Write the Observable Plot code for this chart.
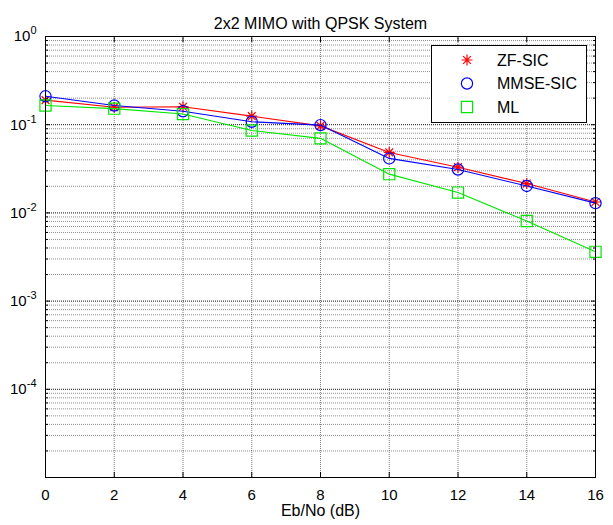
<!DOCTYPE html>
<html>
<head>
<meta charset="utf-8">
<script src="https://cdn.jsdelivr.net/npm/d3@7"></script>
<script src="https://cdn.jsdelivr.net/npm/@observablehq/plot@0.6"></script>
<style>
  html, body { margin: 0; padding: 0; background: #fff; }
  #chart svg { display: block; }
</style>
</head>
<body>
<div id="chart"></div>
<script>
const titleText = "2x2 MIMO with QPSK System";
const xLabel = "Eb/No (dB)";
const ebno = [0, 2, 4, 6, 8, 10, 12, 14, 16];
const zfSic   = [0.190, 0.158, 0.160, 0.125, 0.097, 0.0485, 0.033, 0.0215, 0.0133];
const mmseSic = [0.210, 0.165, 0.142, 0.108, 0.099, 0.0415, 0.031, 0.0202, 0.0129];
const ml      = [0.165, 0.152, 0.132, 0.086, 0.070, 0.0275, 0.017, 0.0081, 0.00362];
const seriesNames = ["ZF-SIC", "MMSE-SIC", "ML"];
const seriesColors = ["#ff0000", "#0000ff", "#00e600"];
const xTicks = [0, 2, 4, 6, 8, 10, 12, 14, 16];
const yLabelTicks = [1, 0.1, 0.01, 0.001, 0.0001];
const decades = [-5, -4, -3, -2, -1, 0];
const minorMult = [2, 3, 4, 5, 6, 7, 8, 9];

const majorTicks = decades.map(e => Math.pow(10, e));
const minorTicks = decades.slice(0, -1).flatMap(e => minorMult.map(m => m * Math.pow(10, e)));

// MATLAB-like 8-arm asterisk
const asterisk8 = {
  draw(context, size) {
    const r = Math.sqrt(size / Math.PI);
    const d = r * Math.SQRT1_2;
    context.moveTo(-r, 0); context.lineTo(r, 0);
    context.moveTo(0, -r); context.lineTo(0, r);
    context.moveTo(-d, -d); context.lineTo(d, d);
    context.moveTo(-d, d); context.lineTo(d, -d);
  }
};
const symbols = [asterisk8, "circle", "square"];
const radii = [5.5, 5.6, 6.3];

const allSeries = [zfSic, mmseSic, ml];
const rows = allSeries.flatMap((vals, si) => vals.map((v, i) => ({x: ebno[i], y: v, s: seriesNames[si]})));

const font = "'Liberation Sans', Arial, Helvetica, sans-serif";

const lineMarks = seriesNames.flatMap((name, si) => {
  const d = rows.filter(r => r.s === name);
  return [
    Plot.line(d, {x: "x", y: "y", stroke: seriesColors[si], strokeWidth: 1.1}),
    Plot.dot(d, {x: "x", y: "y", symbol: () => symbols[si], r: radii[si], stroke: seriesColors[si], fill: "none", strokeWidth: 1.2})
  ];
});

const tickOnly = {fill: "none", label: null};

const chart = Plot.plot({
  width: 613,
  height: 525,
  marginLeft: 45,
  marginRight: 18,
  marginTop: 36,
  marginBottom: 48,
  style: {fontFamily: font, fontSize: "15px", background: "#fff", color: "#000"},
  x: {domain: [0, 16]},
  y: {type: "log", domain: [1e-5, 1]},
  symbol: {type: "identity"},
  marks: [
    Plot.gridY(minorTicks, {stroke: "#000", strokeOpacity: 0.45, strokeDasharray: "1,1", strokeWidth: 1}),
    Plot.gridY(majorTicks, {stroke: "#000", strokeOpacity: 0.95, strokeDasharray: "1,1", strokeWidth: 1}),
    Plot.gridX(xTicks, {stroke: "#000", strokeOpacity: 0.5, strokeDasharray: "1,1", strokeWidth: 1}),
    ...lineMarks,
    Plot.frame({stroke: "#000", strokeWidth: 1}),
    Plot.axisX(xTicks, {anchor: "bottom", tickSize: 0, tickPadding: 12, tickFormat: d => String(d), label: null, fontSize: 15}),
    Plot.axisX(xTicks, {anchor: "bottom", tickSize: -5, ...tickOnly}),
    Plot.axisX(xTicks, {anchor: "top", tickSize: -5, ...tickOnly}),
    Plot.axisY(yLabelTicks, {anchor: "left", tickSize: 0, tickPadding: 9, tickFormat: d => String(Math.round(Math.log10(d))), label: null, fontSize: 15}),
    Plot.axisY(majorTicks, {anchor: "left", tickSize: -5, ...tickOnly}),
    Plot.axisY(majorTicks, {anchor: "right", tickSize: -5, ...tickOnly}),
    Plot.axisY(minorTicks, {anchor: "left", tickSize: -3, ...tickOnly}),
    Plot.axisY(minorTicks, {anchor: "right", tickSize: -3, ...tickOnly}),
    Plot.text([titleText], {frameAnchor: "top", dy: -19, text: d => d, fontSize: 16}),
    Plot.text([xLabel], {frameAnchor: "bottom", dy: 38, text: d => d, fontSize: 16})
  ]
});

document.getElementById("chart").appendChild(chart);

const svg = d3.select(chart);
// make tick labels the reference's size
svg.selectAll('[aria-label="x-axis tick label"], [aria-label="y-axis tick label"]').attr("font-size", 15)
  .selectAll("text").attr("font-size", null);
// superscript exponents on y tick labels
svg.selectAll('[aria-label="y-axis tick label"] text').each(function() {
  const t = d3.select(this);
  const exp = t.text();
  t.text("10");
  t.append("tspan").attr("dy", "-0.62em").attr("font-size", "11px").text(exp);
});

// legend
const lg = svg.append("g").attr("font-family", font).attr("font-size", 16).attr("text-anchor", "start");
lg.append("rect").attr("x", 431.5).attr("y", 45.5).attr("width", 155).attr("height", 77)
  .attr("fill", "#fff").attr("stroke", "#000").attr("stroke-width", 1);
const rowY = [60, 83.5, 107];
seriesNames.forEach((name, i) => {
  const sym = symbols[i] === "circle" ? d3.symbolCircle : symbols[i] === "square" ? d3.symbolSquare : asterisk8;
  lg.append("path")
    .attr("transform", `translate(467,${rowY[i]})`)
    .attr("d", d3.symbol(sym, Math.PI * radii[i] * radii[i])())
    .attr("fill", "none").attr("stroke", seriesColors[i]).attr("stroke-width", 1.2);
  lg.append("text").attr("x", 497).attr("y", rowY[i]).attr("dy", "0.36em").attr("fill", "#000").text(name);
});
</script>
</body>
</html>
